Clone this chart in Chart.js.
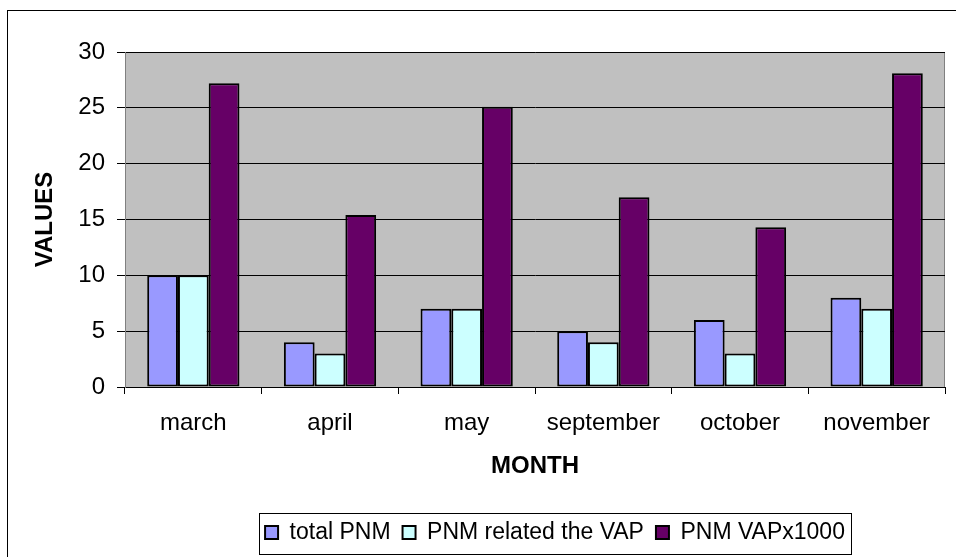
<!DOCTYPE html>
<html>
<head>
<meta charset="utf-8">
<script src="https://cdn.jsdelivr.net/npm/chart.js@4"></script>
<style>
  html, body { margin: 0; padding: 0; background: #fff; }
  #wrap { width: 956px; height: 557px; }
</style>
</head>
<body>
<div id="wrap"><canvas id="chart" width="956" height="557"></canvas></div>
<script>
// data
const months = ['march', 'april', 'may', 'september', 'october', 'november'];
const totalPNM = [10, 4, 7, 5, 6, 8];
const pnmRelatedVAP = [10, 3, 7, 4, 3, 7];
const pnmVAPx1000 = [27.2, 15.4, 25.1, 17, 14.3, 28.1];
const yTicks = [0, 5, 10, 15, 20, 25, 30];

const FONT = 'Arial, "Liberation Sans", sans-serif';
const LEGEND_CENTER = 555;

// grey plot area, outer frame, legend box
const frame = {
    id: 'frame',
    afterLayout(chart) {
        // legend sits a bit right of the middle, like the original
        const lg = chart.legend;
        const shift = LEGEND_CENTER - (lg.left + lg.right) / 2;
        lg.left += shift;
        lg.right += shift;
    },
    beforeDraw(chart) {
        const ctx = chart.ctx;
        const a = chart.chartArea;
        ctx.save();
        ctx.fillStyle = '#fff';
        ctx.fillRect(0, 0, chart.width, chart.height);
        ctx.strokeStyle = '#000';
        ctx.lineWidth = 1;
        ctx.strokeRect(7.5, 10.5, 1200, 1200);
        ctx.fillStyle = '#c0c0c0';
        ctx.fillRect(a.left, a.top, a.right - a.left, a.bottom - a.top);
        ctx.strokeStyle = '#808080';
        ctx.strokeRect(a.left + 0.5, a.top + 0.5, a.right - a.left - 1, a.bottom - a.top);
        ctx.restore();
    },
    afterDraw(chart) {
        const lg = chart.legend;
        const lab = lg.options.labels;
        const half = (lg.lineWidths[0] - lab.padding) / 2 + 6;
        const c = (lg.left + lg.right) / 2;
        const mid = lg.top + lab.padding + lab.font.size / 2;
        const ctx = chart.ctx;
        ctx.save();
        ctx.strokeStyle = '#000';
        ctx.lineWidth = 1;
        ctx.strokeRect(Math.round(c - half) + 0.5, Math.round(mid - 20) + 0.5, Math.round(2 * half), 41);
        ctx.restore();
    }
};

new Chart(document.getElementById('chart').getContext('2d'), {
    type: 'bar',
    data: {
        labels: months,
        datasets: [
            { label: 'total PNM', data: totalPNM, backgroundColor: '#9999ff', borderColor: '#000', borderWidth: 2, borderSkipped: false },
            { label: 'PNM related the VAP', data: pnmRelatedVAP, backgroundColor: '#ccffff', borderColor: '#000', borderWidth: 2, borderSkipped: false },
            { label: 'PNM VAPx1000', data: pnmVAPx1000, backgroundColor: '#660066', borderColor: '#000', borderWidth: 2, borderSkipped: false }
        ]
    },
    options: {
        responsive: false,
        animation: false,
        devicePixelRatio: 1,
        layout: { padding: { left: 0, top: 52, right: 11, bottom: 3 } },
        datasets: { bar: { categoryPercentage: 0.675, barPercentage: 1 } },
        plugins: {
            legend: {
                position: 'bottom',
                labels: {
                    color: '#000',
                    font: { family: FONT, size: 23 },
                    boxWidth: 13,
                    boxHeight: 13,
                    padding: 12
                }
            },
            tooltip: { enabled: false }
        },
        scales: {
            x: {
                afterFit(scale) { scale.height = 122; },
                grid: { offset: true, drawOnChartArea: false, color: '#000', tickLength: 7 },
                border: { color: '#000' },
                ticks: { color: '#000', font: { family: FONT, size: 24 }, padding: 15, maxRotation: 0 },
                title: {
                    display: true,
                    text: 'MONTH',
                    color: '#000',
                    font: { family: FONT, size: 24, weight: 'bold' },
                    padding: { top: 0, bottom: 28 }
                }
            },
            y: {
                min: 0,
                max: 30,
                afterFit(scale) { scale.width = 125; },
                afterBuildTicks(scale) { scale.ticks = yTicks.map(v => ({ value: v })); },
                grid: { color: '#000', tickLength: 8 },
                border: { color: '#808080' },
                ticks: { color: '#000', font: { family: FONT, size: 24 }, padding: 12 },
                title: {
                    display: true,
                    text: 'VALUES',
                    color: '#000',
                    font: { family: FONT, size: 24, weight: 'bold' },
                    padding: { top: 31, bottom: 0 }
                }
            }
        }
    },
    plugins: [frame]
});
</script>
</body>
</html>
